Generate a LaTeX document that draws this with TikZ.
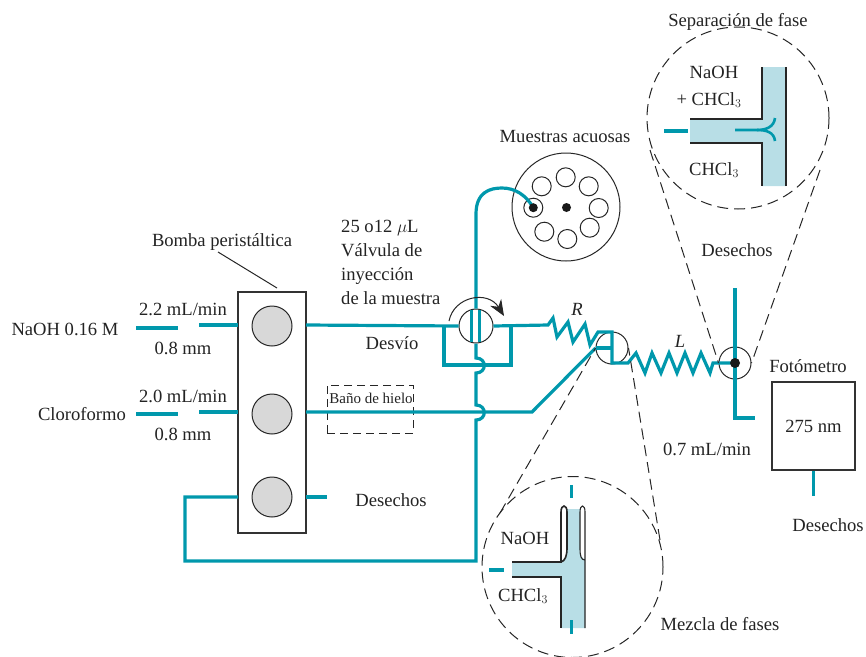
\documentclass[tikz,border=0pt]{standalone}
\usepackage{fontspec}
\setmainfont{Liberation Serif}
\usepackage{tikz}
\usetikzlibrary{arrows.meta, positioning}
\usepackage{xcolor}
\definecolor{tubeteal}{RGB}{0, 152, 172}
\definecolor{phaseblue}{RGB}{184, 222, 230}
\definecolor{rollergray}{RGB}{216, 216, 216}
\definecolor{inkgray}{RGB}{35, 35, 35}

\begin{document}
\begin{tikzpicture}[
        x=1pt, y=-1pt,
        every node/.style={font=\fontsize{18.6}{24}\selectfont, text=inkgray, inner sep=0pt},
        tube/.style={line width=3.2pt, tubeteal, line join=miter},
        wall/.style={line width=1.6pt, black!85},
        thinline/.style={line width=1pt, black!85},
        lens/.style={line width=1pt, black!85, dash pattern=on 11pt off 6pt},
        pumpbox/.style={rectangle, draw=black!80, line width=1.2pt, minimum width=68pt, minimum height=241pt},
        roller/.style={circle, draw=black!85, line width=1pt, fill=rollergray, minimum size=40pt},
        hole/.style={circle, draw=black!85, line width=1pt, minimum size=19pt},
        port/.style={circle, draw=black!85, line width=1pt, minimum size=32pt},
        blackdot/.style={circle, fill=black!90, minimum size=9pt}
    ]
        \useasboundingbox (0,0) rectangle (866,656);

        % pump
        \node[pumpbox] (pump) at (272,412.5) {};
        \node[roller] (rollerA) at (272,326) {};
        \node[roller] (rollerB) at (272,414) {};
        \node[roller] (rollerC) at (272,497) {};
        \node (pumplabel) at (222,242) {Bomba peristáltica};
        \coordinate (leadA) at (218,252);
        \coordinate (leadB) at (277,288);
        \draw[thinline] (leadA) -- (leadB);

        % inlet labels
        \node (naohin) at (65,329) {NaOH 0.16 M};
        \node (cloroin) at (82,414) {Cloroformo};
        \node (rateA) at (183,309) {2.2 mL/min};
        \node (boreA) at (183,348) {0.8 mm};
        \node (rateB) at (183,396) {2.0 mL/min};
        \node (boreB) at (183,434) {0.8 mm};

        % valve and sample wheel
        \node[circle, draw=black!85, line width=1pt, minimum size=34pt] (valve) at (476,326) {};
        \node[circle, draw=black!85, line width=1pt, minimum size=108pt] (wheel) at (566,207) {};
        \node[blackdot] (hub) at (566.5,207.5) {};
        \node[hole] (holeA) at (565.7,177.3) {};
        \node[hole] (holeB) at (588.7,186.3) {};
        \node[hole] (holeC) at (598.7,208) {};
        \node[hole] (holeD) at (589.7,227.7) {};
        \node[hole] (holeE) at (567.3,239) {};
        \node[hole] (holeF) at (544.3,231.7) {};
        \node[hole] (holeG) at (541.7,186.3) {};
        \node[hole] (holeH) at (533.3,207.7) {};
        \node (wheellabel) at (565,136) {Muestras acuosas};
        \node[align=left, anchor=west] (valvelabel) at (341,262) {25 o12 $\mu$L\\Válvula de\\inyección\\de la muestra};
        \node (bypasslabel) at (392,343) {Desvío};

        % ice bath
        \node[rectangle, draw=black!85, line width=1pt, dash pattern=on 8pt off 5pt, minimum width=86pt, minimum height=48pt] (icebath) at (370,409) {};
        \node[font=\fontsize{15}{16}\selectfont] (icelabel) at (371,398) {Baño de hielo};

        % mixing tee, detector, photometer
        \node[port] (mixport) at (612,348) {};
        \node[port] (detector) at (735,363) {};
        \node[rectangle, draw=black!80, line width=1.2pt, minimum width=83pt, minimum height=88pt] (photometer) at (813.5,426) {275 nm};
        \node (photolabel) at (808,366) {Fotómetro};
        \node (flowlabel) at (707,449) {0.7 mL/min};
        \node (wasteC) at (828,525) {Desechos};
        \node (wasteB) at (737,250) {Desechos};
        \node (wasteA) at (391,500) {Desechos};
        \node[font=\fontsize{18.6}{24}\selectfont\itshape] (Rlabel) at (577,309) {R};
        \node[font=\fontsize{18.6}{24}\selectfont\itshape] (Llabel) at (680,341) {L};

        % named ends of tubes
        \coordinate (inA) at (136,328);
        \coordinate (inAend) at (178,328);
        \coordinate (pumpA) at (199,325);
        \coordinate (inB) at (136,414);
        \coordinate (inBend) at (178,414);
        \coordinate (pumpB) at (199,412);
        \coordinate (outC) at (327,497);
        \coordinate (detTop) at (735,288);
        \coordinate (detEnd) at (755,418);

        % tubes
        \draw[tube] (inA) -- (inAend);
        \draw[tube] (pumpA) -- (238,325);
        \draw[tube] (inB) -- (inBend);
        \draw[tube] (pumpB) -- (238,412);
        \draw[tube] (306,325) -- (valve.west);
        \draw[tube] (444,325) -- (444,365) -- (511,365) -- (511,325);
        \draw[tube] (valve.east) -- (548,325) -- (553,318) -- (557,337) -- (568,322) -- (573,342) -- (585,324) -- (590,345) -- (598,332) -- (612,332) -- (612,363) -- (628,363) -- (636,353) -- (645,373) -- (652,353) -- (661,373) -- (669,353) -- (677,373) -- (685,353) -- (693,373) -- (701,353) -- (710,373) -- (713,363) -- (detector.center);
        \draw[tube] (mixport.west) -- (612,348);
        \draw[tube] (306,412) -- (532,412) -- (mixport.west);
        \draw[tube] (detTop) -- (735,418) -- (detEnd);
        \draw[tube] (photometer.south) -- ++(0,25);
        \draw[tube] (306,497) -- (outC);
        \draw[tube] (238,497) -- (185,497) -- (185,561) -- (476,561) -- (476,420) .. controls (487,420) and (487,405) .. (476,405) -- (476,373) .. controls (487,373) and (487,358) .. (476,358) -- (valve.south);
        \draw[tube] (471.5,310) -- (471.5,342);
        \draw[tube] (479.5,310) -- (479.5,342);
        \draw[tube] (valve.north) -- (476,214) .. controls (476,192) and (490,188) .. (502,188) .. controls (515,188) and (526,195) .. (holeH.center);

        % valve turn
        \draw[thinline, -{Stealth[length=16pt, width=13pt]}] (449,321) .. controls (454,296) and (488,290) .. (504,316);

        % dots on top of tubes
        \node[blackdot] (needle) at (533.3,207.7) {};
        \node[blackdot, minimum size=10pt] (detdot) at (735,363) {};

        % phase separation lens
        \node[circle, lens, minimum size=182pt, draw] (seplens) at (738,118) {};
        \node (seplabel) at (738,22) {Separación de fase};
        \coordinate (sepL) at (650,150);
        \coordinate (sepR) at (820,170);
        \draw[lens] (sepL) -- (detector.west);
        \draw[lens] (sepR) -- (detector.east);
        \fill[phaseblue] (690,119) -- (762,119) -- (762,67) -- (786,67) -- (786,186) -- (762,186) -- (762,143) -- (690,143) -- cycle;
        \draw[wall] (690,119) -- (762,119) -- (762,67);
        \draw[wall] (690,143) -- (762,143) -- (762,186);
        \draw[wall] (786,67) -- (786,186);
        \coordinate (sepdashA) at (664,131);
        \coordinate (sepdashB) at (688,131);
        \draw[tube] (sepdashA) -- (sepdashB);
        \draw[tube, line width=2.6pt] (735,130) -- (757,130) .. controls (766,130) and (774,127) .. (775,118);
        \draw[tube, line width=2.6pt] (757,130) .. controls (766,130) and (774,132) .. (775,141);
        \node (sepA) at (714,72) {NaOH};
        \node (sepB) at (709,100) {+ CHCl$_3$};
        \node (sepC) at (714,170) {CHCl$_3$};

        % phase mixing lens
        \node[circle, lens, minimum size=181pt, draw] (mixlens) at (572.5,567) {};
        \node (mixlabel) at (720,624) {Mezcla de fases};
        \coordinate (mixL) at (500,513);
        \coordinate (mixR) at (660,540);
        \draw[lens] (mixL) -- (mixport.west);
        \draw[lens] (mixR) -- (mixport.east);
        \fill[phaseblue] (567,509) -- (580,509) -- (580,555) -- (585,560) -- (585,628) -- (561,628) -- (561,577) -- (512,577) -- (512,562) -- (561,562) -- (567,555) -- cycle;
        \draw[wall] (512,562) -- (561,562) -- (561,512) .. controls (561,504) and (567,504) .. (567,512) -- (567,548) .. controls (567,556) and (565,561) .. (561,562);
        \draw[wall] (512,577) -- (561,577) -- (561,628);
        \draw[wall, line width=1.1pt] (585,628) -- (585,512) .. controls (585,504) and (580,504) .. (580,512) -- (580,548) .. controls (580,556) and (581,560) .. (585,560);
        \coordinate (mixdashA) at (571.7,485);
        \coordinate (mixdashB) at (571.7,498);
        \coordinate (mixdashC) at (489,570);
        \coordinate (mixdashD) at (504,570);
        \coordinate (mixdashE) at (571.7,620);
        \coordinate (mixdashF) at (571.7,634);
        \draw[tube] (mixdashA) -- (mixdashB);
        \draw[tube] (mixdashC) -- (mixdashD);
        \draw[tube] (mixdashE) -- (mixdashF);
        \node (mixA) at (525,538) {NaOH};
        \node (mixB) at (523,596) {CHCl$_3$};
    \end{tikzpicture}
\end{document}
